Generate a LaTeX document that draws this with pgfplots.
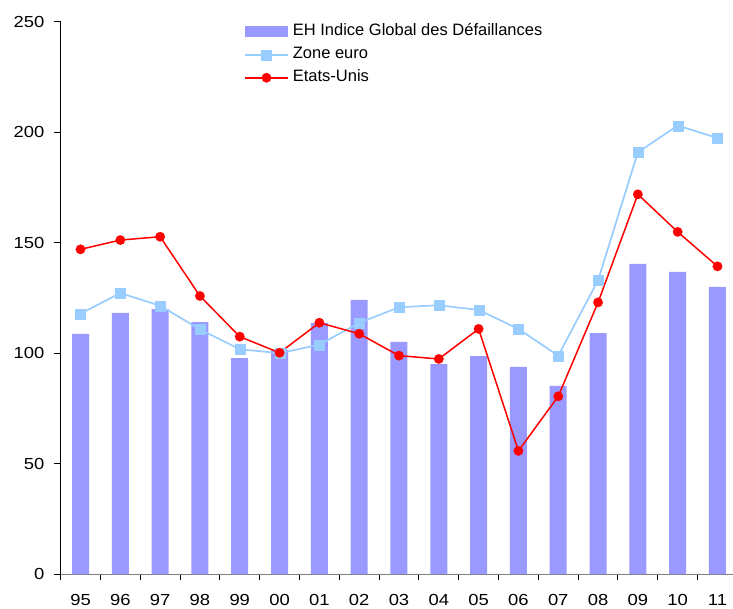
\documentclass[border=0pt]{standalone}
\usepackage{fontspec}
\setmainfont{Liberation Sans}
\newfontfamily\tickfont{Liberation Sans}[FakeStretch=1.15]
\usepackage{pgfplots}
\pgfplotsset{compat=1.18}
\definecolor{barc}{HTML}{9999FF}
\definecolor{euroc}{HTML}{99CCFF}
\definecolor{usc}{HTML}{FF0000}
\pgfplotsset{
  lineleg/.style={legend image code/.code={\draw[mark repeat=2, mark phase=2, ##1] plot coordinates {(0pt,0pt)(21.5pt,0pt)(43pt,0pt)};}},
  barleg/.style={legend image code/.code={\fill[barc] (0pt,-5.5pt) rectangle (43pt,5.5pt);}},
}
\begin{document}
\begin{tikzpicture}
\path[use as bounding box] (-60.6pt,-34pt) rectangle (672.4pt,574pt);
\begin{axis}[
  at={(0pt,0pt)}, anchor=south west,
  width=672.4pt, height=552.5pt, scale only axis,
  xmin=-0.5, xmax=16.39, ymin=0, ymax=250,
  axis x line=bottom, axis y line=left,
  x axis line style={-, draw=gray, line width=1pt},
  y axis line style={-, draw=black, line width=1pt},
  tick align=outside,
  major tick length=7pt, minor tick length=6pt,
  ytick={0,50,...,250},
  y tick style={black, line width=0.8pt},
  xtick={0,...,16},
  xticklabels={95,96,97,98,99,00,01,02,03,04,05,06,07,08,09,10,11},
  major x tick style={draw=none},
  minor xtick={-0.5,0.5,...,15.5},
  minor x tick style={black, line width=1pt},
  /pgf/number format/assume math mode=true,
  x tick label style={font=\tickfont\fontsize{16}{19}\selectfont, anchor=north, inner sep=0pt, yshift=-13pt},
  y tick label style={font=\tickfont\fontsize{16}{19}\selectfont, anchor=east, inner sep=0pt, xshift=-9pt},
  legend cell align=left,
  legend style={at={(0.273,0.995)}, anchor=north west, draw=none, fill=none,
    inner sep=0pt, outer sep=0pt, row sep=8pt, column sep=4pt,
    font=\fontsize{16.5}{19}\selectfont,
    nodes={inner sep=0pt, text height=11.5pt, text depth=3.5pt}},
]
\addplot[ybar, bar width=17pt, bar shift=0pt, fill=barc, draw=none, barleg]
  coordinates {(0,108.6)(1,118.1)(2,119.9)(3,114.0)(4,97.7)(5,101.5)(6,113.6)(7,124.0)(8,105.0)(9,95.0)(10,98.6)(11,93.7)(12,85.1)(13,109.0)(14,140.3)(15,136.7)(16,129.9)};
\addlegendentry{EH Indice Global des Défaillances}
\addplot[color=euroc, line width=1.7pt, mark=square*, mark size=5pt,
  mark options={solid, fill=euroc, draw=euroc, line width=0.1pt}, lineleg]
  coordinates {(0,117.8)(1,127.1)(2,121.4)(3,110.7)(4,101.7)(5,99.9)(6,103.8)(7,113.6)(8,120.7)(9,121.6)(10,119.5)(11,110.9)(12,98.8)(13,132.9)(14,190.8)(15,202.9)(16,197.3)};
\addlegendentry{Zone euro}
\addplot[color=usc, line width=1.5pt, mark=*, mark size=4.8pt,
  mark options={solid, fill=usc, draw=usc, line width=0.1pt}, lineleg]
  coordinates {(0,146.9)(1,151.1)(2,152.6)(3,125.8)(4,107.4)(5,100.1)(6,113.7)(7,108.7)(8,98.8)(9,97.3)(10,110.9)(11,55.7)(12,80.4)(13,122.9)(14,171.8)(15,154.8)(16,139.2)};
\addlegendentry{Etats-Unis}
\end{axis}
\end{tikzpicture}
\end{document}
